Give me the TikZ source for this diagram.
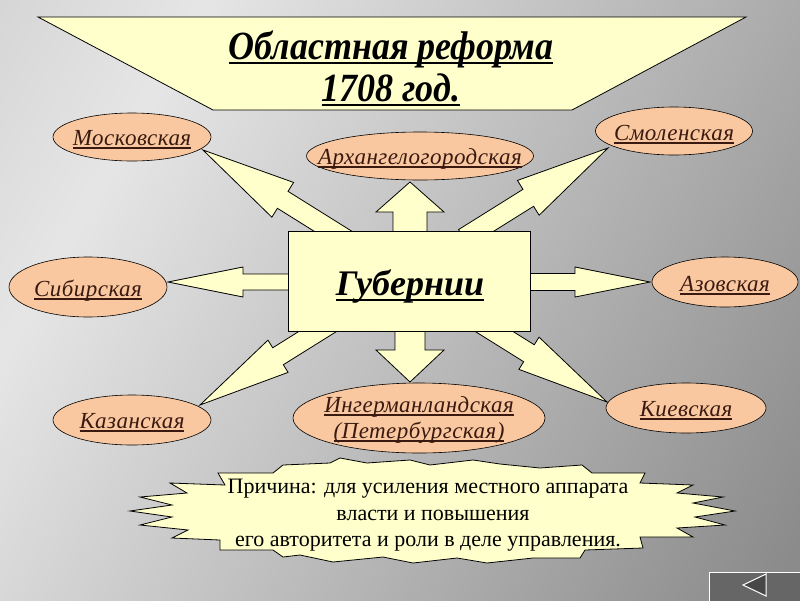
\documentclass[tikz,border=0pt]{standalone}
\usepackage{graphicx}
\usepackage{fontspec}
\setmainfont{Liberation Serif}
\usetikzlibrary{shapes.geometric}
\definecolor{paleyel}{HTML}{FFFFCC}
\definecolor{peach}{HTML}{F9C8A0}
\definecolor{lbl}{HTML}{3A1A10}
\definecolor{bgA}{gray}{0.76}
\definecolor{bgB}{gray}{0.90}
\definecolor{bgC}{gray}{0.43}
\definecolor{btn}{gray}{0.40}
\definecolor{btntri}{gray}{0.28}
\pgfdeclarehorizontalshading{bgsh}{100bp}{color(0bp)=(bgA); color(28bp)=(bgB); color(100bp)=(bgC)}
\newsavebox\ulbox
\newcommand\ulx[3]{\sbox\ulbox{#3}\rlap{\rule[-#1]{\wd\ulbox}{#2}}\usebox\ulbox}
\newcommand\barrow[7]{%
  \coordinate (#1) at (#2);
  \begin{scope}[shift={(#2)},rotate=#3]
    \filldraw[blockarr] (0,0) -- (#4,#5) -- (#4,#6) -- (#7,#6) -- (#7,-#6) -- (#4,-#6) -- (#4,-#5) -- cycle;
  \end{scope}}
\tikzset{
  blockarr/.style={fill=paleyel, draw=black, line width=0.8pt, line join=miter},
  yelshape/.style={fill=paleyel, draw=black, line width=0.8pt, line join=miter},
  prov/.style={ellipse, draw=black, line width=0.6pt, fill=peach, inner sep=0pt},
  provtxt/.style={anchor=base, inner sep=0pt, text=lbl,
    font=\fontsize{23}{26}\selectfont\itshape\addfontfeature{LetterSpace=2}},
  titletxt/.style={anchor=base, inner sep=0pt, font=\fontsize{40}{44}\selectfont\bfseries\itshape},
  reasontxt/.style={anchor=base, inner sep=0pt, font=\fontsize{22}{25}\selectfont}
}
\begin{document}
\begin{tikzpicture}[x=1pt,y=-1pt]
\useasboundingbox (0,0) rectangle (800,600);
\shade[shading=bgsh, shading angle=-30] (0,0) rectangle (800,600);

% block arrows: name, tip, angle, head length, head half-width, shaft half-width, total length
\barrow{tipMos}{203,150}{-32}{94}{20.5}{10}{170}
\barrow{tipSmo}{608,148}{-148}{94}{20.5}{10}{170}
\barrow{tipKaz}{200,405}{32}{92}{19}{10}{165}
\barrow{tipKie}{607,402}{148}{92}{19}{10}{165}
\barrow{tipArh}{410,182}{-90}{30}{34}{17}{60}
\barrow{tipIng}{410,382}{90}{32}{34}{15}{60}
\barrow{tipSib}{168,282}{0}{75}{15}{8}{130}
\barrow{tipAzo}{650,282}{180}{75}{15}{8.5}{130}

% central box
\node[draw=black, fill=paleyel, line width=0.8pt, minimum width=242pt, minimum height=100pt, inner sep=0pt] (gub) at (409,281) {};
\node[titletxt, font=\fontsize{36}{40}\selectfont\bfseries\itshape] (gubtxt) at (410,295) {\ulx{6pt}{2.5pt}{Губернии}};

% provinces
\node[prov, minimum width=158pt, minimum height=48pt] (mos) at (132,137) {};
\node[provtxt] (mostxt) at (132,145) {\ulx{4pt}{2pt}{Московская}};
\node[prov, minimum width=227pt, minimum height=48pt] (arh) at (420,156) {};
\node[provtxt] (arhtxt) at (420,164) {\ulx{4pt}{2pt}{Архангелогородская}};
\node[prov, minimum width=157pt, minimum height=48pt] (smo) at (674,131) {};
\node[provtxt] (smotxt) at (674,140) {\ulx{4pt}{2pt}{Смоленская}};
\node[prov, minimum width=158pt, minimum height=60pt] (sib) at (88,287) {};
\node[provtxt] (sibtxt) at (88,296) {\ulx{4pt}{2pt}{Сибирская}};
\node[prov, minimum width=146pt, minimum height=50pt] (azo) at (725,282) {};
\node[provtxt] (azotxt) at (725,291) {\ulx{4pt}{2pt}{Азовская}};
\node[prov, minimum width=158pt, minimum height=50pt] (kaz) at (132,420) {};
\node[provtxt] (kaztxt) at (132,428) {\ulx{4pt}{2pt}{Казанская}};
\node[prov, minimum width=252pt, minimum height=70pt] (ing) at (419,418) {};
\node[provtxt] (ingtxt1) at (419,412) {\ulx{4pt}{2pt}{Ингерманландская}};
\node[provtxt] (ingtxt2) at (419,438) {\ulx{4pt}{2pt}{(Петербургская)}};
\node[prov, minimum width=160pt, minimum height=50pt] (kie) at (686,408) {};
\node[provtxt] (kietxt) at (686,416) {\ulx{4pt}{2pt}{Киевская}};

% title banner
\filldraw[yelshape] (38,17) -- (746,17) -- (572,110) -- (213,110) -- cycle;
\node[titletxt] (title1) at (391,59) {\scalebox{0.9}[1]{\ulx{5pt}{2.5pt}{Областная реформа}}};
\node[titletxt] (title2) at (391,101) {\scalebox{0.9}[1]{\ulx{5pt}{2.5pt}{1708 год.}}};

% reason starburst
\filldraw[yelshape] (218,473) -- (273,473) -- (283,465) -- (330,463) -- (340,458) -- (367,463) -- (410,460) -- (430,465) -- (473,460) -- (500,464) -- (540,468) -- (582,465) -- (592,473) -- (645,473) -- (640,483)
 -- (693,485) -- (677,493) -- (723,497) -- (693,503) -- (735,511) -- (695,517) -- (725,525) -- (677,528) -- (693,537) -- (640,537) -- (643,548)
 -- (585,550) -- (580,558) -- (533,558) -- (487,563) -- (457,558) -- (413,563) -- (383,557) -- (333,562) -- (300,555) -- (283,557) -- (273,550) -- (220,550)
 -- (220,540) -- (172,538) -- (188,530) -- (140,525) -- (172,517) -- (130,511) -- (172,505) -- (140,497) -- (187,493) -- (170,483) -- (225,485) -- cycle;
\node[reasontxt] (r1) at (428,493) {Причина: для усиления местного аппарата};
\node[reasontxt] (r2) at (433,520) {власти и повышения};
\node[reasontxt] (r3) at (428,546) {его авторитета и роли в деле управления.};

% navigation button
\filldraw[fill=btn, draw=white, line width=1pt] (709,572) rectangle (806,606);
\filldraw[fill=btntri, draw=white, line width=1pt] (743,585) -- (766,574) -- (766,596) -- cycle;
\end{tikzpicture}
\end{document}
